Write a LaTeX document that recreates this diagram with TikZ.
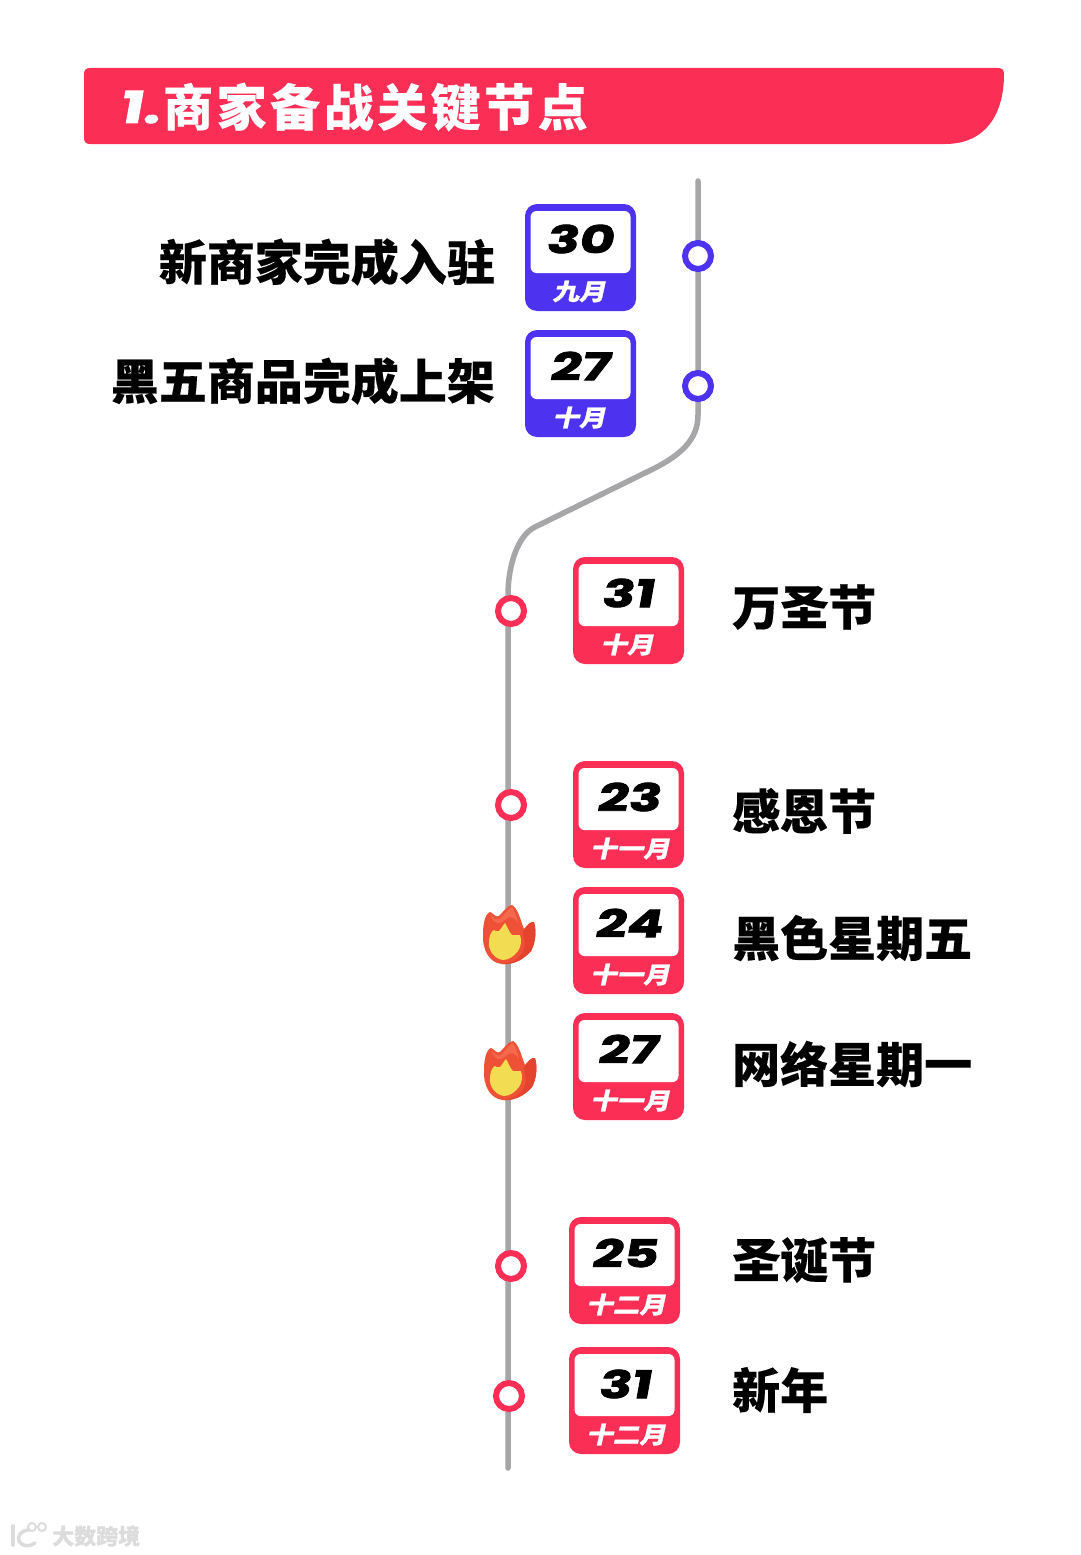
\documentclass[tikz,border=0pt]{standalone}
\usepackage{fontspec}
\newfontfamily\cjkb[FakeBold=0.3]{Noto Sans CJK SC}
\newfontfamily\cjkt[LetterSpace=7,FakeBold=0.2]{Noto Sans CJK SC}
\newfontfamily\cjks[FakeSlant=0.22,FakeStretch=1.15,FakeBold=1.2]{Noto Sans CJK SC}
\newfontfamily\numf[FakeSlant=0.18,FakeStretch=1.42,FakeBold=2.2]{Poppins}
\definecolor{brandred}{HTML}{FB2E56}
\definecolor{brandblue}{HTML}{4D32F0}
\definecolor{linegray}{HTML}{A6A6A8}
\definecolor{wmgray}{HTML}{DCDCDC}
\definecolor{flameo}{HTML}{EE5135}
\definecolor{flamed}{HTML}{E4442E}
\definecolor{flameh}{HTML}{F4684C}
\definecolor{flamey}{HTML}{F2DC52}
\tikzset{
  x=1pt,y=-1pt,
  badgebox/.style={inner sep=0pt,minimum width=111pt,minimum height=107pt,rounded corners=12pt,fill=#1,draw=none},
  badgeinner/.style={inner sep=0pt,minimum width=100pt,minimum height=62pt,rounded corners=6pt,fill=white,draw=none},
  numtext/.style={inner sep=0pt,text=black,font=\numf\bfseries\fontsize{38}{38}\selectfont},
  monthtext/.style={inner sep=0pt,text=white,font=\cjks\bfseries\fontsize{23}{23}\selectfont},
  labeltext/.style={inner sep=0pt,text=black,font=\cjkb\bfseries\fontsize{48}{48}\selectfont},
  timeline/.style={draw=linegray,line width=5.5pt,line cap=round},
  dot/.style={circle,fill=white,draw=#1,line width=6pt,minimum size=26pt,inner sep=0pt},
}
\newcommand{\badge}[9]{% name, cx, top, colour, num, numx, numy, month, monthx
  \node[badgebox=#4] (#1) at (#2,#3+53.5) {};
  \node[badgeinner] (#1in) at (#2,#3+38) {};
  \node[numtext] (#1num) at (#6,#7) {#5};
  \node[monthtext] (#1mon) at (#9,#3+87.5) {#8};
}
\newcommand{\flame}[3]{% name, x, y (centre)
  \begin{scope}[shift={(#2,#3)}]
    \coordinate (#1) at (0,0);
    \fill[flameo] (-7,30) .. controls (-20,29) and (-27,15) .. (-26,0)
      .. controls (-26,-10) and (-24,-20) .. (-19,-22)
      .. controls (-16,-21) and (-13,-16) .. (-10,-18)
      .. controls (-6,-22) and (-1,-29) .. (3,-29)
      .. controls (9,-26) and (12,-12) .. (15,-5)
      .. controls (18,-9) and (22,-13) .. (25,-12)
      .. controls (28,-2) and (26,10) .. (22,17)
      .. controls (15,25) and (5,31) .. (-7,30) -- cycle;
    \fill[flamed] (14,-2) .. controls (18,-9) and (22,-13) .. (25,-12)
      .. controls (28,-2) and (26,10) .. (22,17)
      .. controls (15,25) and (5,31) .. (-7,30)
      .. controls (5,29) and (15,22) .. (16,10) -- cycle;
    \fill[flameh] (-19,-20) .. controls (-16,-17) and (-13,-13) .. (-9,-15)
      .. controls (-5,-19) and (0,-26) .. (3,-27)
      .. controls (6,-23) and (8,-16) .. (9,-11)
      .. controls (5,-17) and (0,-19) .. (-4,-14)
      .. controls (-8,-10) and (-15,-8) .. (-19,-20) -- cycle;
    \fill[flamey] (-6,26) .. controls (-14,25) and (-21,17) .. (-20,8)
      .. controls (-20,3) and (-18,-3) .. (-15,-4)
      .. controls (-14,-3) and (-12,-2) .. (-10,-3)
      .. controls (-8,-5) and (-6,-9) .. (-4,-11)
      .. controls (-2,-8) and (0,-2) .. (3,1)
      .. controls (6,2) and (9,0) .. (11,1)
      .. controls (13,6) and (12,13) .. (9,17)
      .. controls (5,22) and (0,26) .. (-6,26) -- cycle;
  \end{scope}
}
\begin{document}
\begin{tikzpicture}
\useasboundingbox (0,0) rectangle (1080,1555);
\fill[white] (0,0) rectangle (1080,1555);
% header
\fill[brandred] (90,68) -- (998,68) .. controls (1002,68) and (1004,70) .. (1004,74)
  .. controls (1004,115) and (985,144) .. (945,144)
  -- (90,144) .. controls (86,144) and (84,142) .. (84,138) -- (84,74)
  .. controls (84,70) and (86,68) .. (90,68) -- cycle;
\node[anchor=center,inner sep=0pt,text=white,font=\numf\bfseries\fontsize{44}{44}\selectfont] (titlenum) at (139,107) {1.};
\node[anchor=west,inner sep=0pt,text=white,font=\cjkt\bfseries\fontsize{50}{50}\selectfont] (title) at (163,107) {商家备战关键节点};
% timeline
\coordinate (ltop) at (698,181);
\coordinate (lbot) at (508,1468);
\draw[timeline] (ltop) -- (698,415) .. controls (698,440) and (680,455) .. (655,468)
  -- (535,527) .. controls (518,535) and (508,565) .. (508,595) -- (lbot);
% dots
\node[dot=brandblue] (d1) at (698,256) {};
\node[dot=brandblue] (d2) at (698,386) {};
\node[dot=brandred] (d3) at (511,611) {};
\node[dot=brandred] (d4) at (511,805) {};
\node[dot=brandred] (d7) at (511,1266) {};
\node[dot=brandred] (d8) at (509,1396) {};
\flame{f1}{509}{934}
\flame{f2}{510}{1070}
% badges
\badge{b1}{580.5}{204}{brandblue}{30}{579}{239}{九月}{579}
\badge{b2}{580.5}{330}{brandblue}{27}{579}{366}{十月}{579}
\badge{b3}{628.5}{557}{brandred}{31}{627}{593}{十月}{627}
\badge{b4}{628.5}{761}{brandred}{23}{628}{797}{十一月}{630}
\badge{b5}{628.5}{887}{brandred}{24}{628}{923}{十一月}{630}
\badge{b6}{628.5}{1013}{brandred}{27}{627}{1049}{十一月}{630}
\badge{b7}{624.5}{1217}{brandred}{25}{624}{1253}{十二月}{626}
\badge{b8}{624.5}{1347}{brandred}{31}{624}{1384}{十二月}{626}
% labels
\node[labeltext,anchor=east] (t1) at (495,262) {新商家完成入驻};
\node[labeltext,anchor=east] (t2) at (495,381) {黑五商品完成上架};
\node[labeltext,anchor=west] (t3) at (732,607) {万圣节};
\node[labeltext,anchor=west] (t4) at (732,811) {感恩节};
\node[labeltext,anchor=west] (t5) at (732,938) {黑色星期五};
\node[labeltext,anchor=west] (t6) at (732,1064) {网络星期一};
\node[labeltext,anchor=west] (t7) at (732,1260) {圣诞节};
\node[labeltext,anchor=west] (t8) at (732,1390) {新年};
% watermark
\draw[wmgray,line width=3.5pt,line cap=round] (13,1526) -- (13,1545);
\draw[wmgray,line width=3.5pt,line cap=round] (29,1530) .. controls (21,1530) and (17,1536) .. (19,1541) .. controls (22,1547) and (30,1547) .. (35,1543);
\draw[wmgray,line width=2pt] (32,1527) circle (4);
\draw[wmgray,line width=2pt] (42,1527) circle (4);
\node[anchor=west,inner sep=0pt,text=wmgray,font=\cjkb\bfseries\fontsize{22}{22}\selectfont] (wm) at (52,1536) {大数跨境};
\end{tikzpicture}
\end{document}
